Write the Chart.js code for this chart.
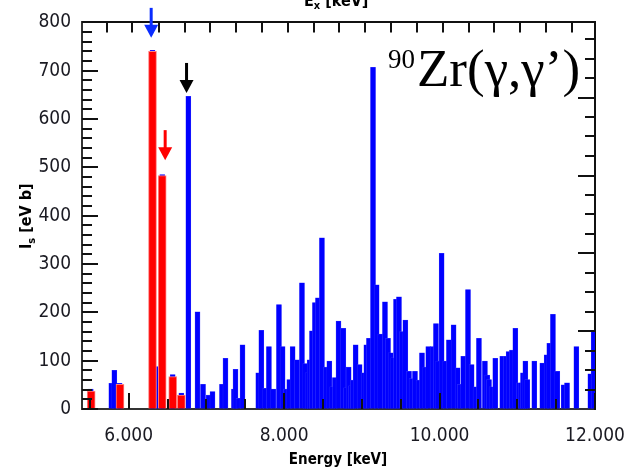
<!DOCTYPE html>
<html><head><meta charset="utf-8">
<script src="https://cdn.jsdelivr.net/npm/chart.js@4/dist/chart.umd.min.js"></script>
<style>html,body{margin:0;padding:0;background:#fff;}#wrap{width:628px;height:469px;}</style>
</head><body><div id="wrap"><canvas id="c" width="628" height="469"></canvas></div>
<script>
// ---- data ----
const blueEnergy = [5513,5777,5816,5884,6307,6384,6432,6567,6678,6768,6886,6957,7030,7079,7201,7246,7355,7375,7414,7465,
  7668,7707,7758,7805,7861,7934,7981,8024,8067,8110,8166,8230,8273,8303,8329,8359,8397,8436,8487,8539,8582,8620,8654,8700,
  8762,8797,8831,8861,8886,8921,8972,9024,9058,9092,9144,9191,9238,9298,9337,9371,9405,9440,9478,9517,9560,9607,9641,9684,
  9731,9774,9817,9855,9911,9954,9984,10027,10074,10121,10181,10233,10263,10305,10366,10413,10464,10507,10584,10614,10636,
  10670,10717,10807,10853,10889,10932,10975,11022,11050,11074,11104,11129,11219,11322,11378,11412,11459,11515,11597,11640,
  11760,11940,11983];
const blueValue = [41,53,80,53,742,88,485,71,33,647,201,51,29,36,51,105,41,82,22,133,
  75,163,43,129,41,216,129,41,61,129,102,261,94,75,102,162,220,230,354,87,99,46,65,182,
  167,44,87,48,60,133,92,75,133,146,707,257,155,222,146,116,106,227,232,160,184,78,63,78,
  60,116,87,129,129,177,99,322,99,143,174,85,51,109,247,92,46,146,99,70,61,
  46,105,109,109,119,122,167,54,54,75,99,61,99,95,112,136,196,78,50,54,
  129,73,162];
const redEnergy = [5518,5889,6307,6432,6567,6678];
const redValue  = [37,51,740,483,67,29];

const xTickValues   = [5500,6000,6500,7000,7500,8000,8500,9000,9500,10000,10500,11000,11500,12000];
const xLabelValues  = [6000,8000,10000,12000];
const yTickValues   = [0,100,200,300,400,500,600,700,800];
const yMinorValues  = [20,40,60,80,120,140,160,180,220,240,260,280,320,340,360,380,420,440,460,480,520,540,560,580,620,640,660,680,720,740,760,780];
const rightMajorValues = [161,322,483,644];
const rightMinorValues = [40,81,121,201,242,282,362,403,443,524,564,604,685,725,765];
const topTickEnergies  = [5722,6043,6391,6725,7047,7381,7716,8050,8385,8706,9041,9375,9710,10044,10379,10700,11035,11369,11704];

const arrowEnergy = [6290,6470,6745];
const arrowTip    = [768,515,654];
const arrowColor  = ['#0a2cff','#ff0000','#000000'];

const toXY = (xs, ys) => xs.map((x, i) => ({x: x, y: ys[i]}));

const COND = "'DejaVu Sans Condensed','DejaVu Sans',sans-serif";
const TICK_FONT = {family: COND, size: 19};

const decorPlugin = {
  id: 'decor',
  afterDatasetsDraw(chart) {
    const ctx = chart.ctx, xs = chart.scales.x, ys = chart.scales.y, a = chart.chartArea;
    ctx.save();
    ctx.strokeStyle = '#111';
    ctx.lineWidth = 2;
    ctx.beginPath();
    xTickValues.forEach(v => {
      const px = Math.round(xs.getPixelForValue(v));
      const len = xLabelValues.includes(v) ? 16 : 10;
      ctx.moveTo(px, a.bottom); ctx.lineTo(px, a.bottom - len);
    });
    topTickEnergies.forEach(v => {
      const px = Math.round(xs.getPixelForValue(v));
      ctx.moveTo(px, a.top); ctx.lineTo(px, a.top + 10);
    });
    yTickValues.forEach(v => {
      const py = Math.round(ys.getPixelForValue(v));
      ctx.moveTo(a.left, py); ctx.lineTo(a.left + 16, py);
    });
    yMinorValues.forEach(v => {
      const py = Math.round(ys.getPixelForValue(v));
      ctx.moveTo(a.left, py); ctx.lineTo(a.left + 10, py);
    });
    rightMajorValues.forEach(v => {
      const py = Math.round(ys.getPixelForValue(v));
      ctx.moveTo(a.right, py); ctx.lineTo(a.right - 17, py);
    });
    rightMinorValues.forEach(v => {
      const py = Math.round(ys.getPixelForValue(v));
      ctx.moveTo(a.right, py); ctx.lineTo(a.right - 10, py);
    });
    ctx.stroke();

    // x tick labels
    ctx.fillStyle = '#1a1a22';
    ctx.font = "19px " + COND;
    ctx.textAlign = 'center';
    ctx.textBaseline = 'middle';
    xLabelValues.forEach(v => {
      ctx.fillText((v / 1000).toFixed(3), xs.getPixelForValue(v), 436);
    });

    // arrows
    arrowEnergy.forEach((e, i) => {
      const px = xs.getPixelForValue(e), tip = ys.getPixelForValue(arrowTip[i]);
      ctx.strokeStyle = arrowColor[i]; ctx.fillStyle = arrowColor[i];
      ctx.lineWidth = 3;
      ctx.beginPath(); ctx.moveTo(px, tip - 30); ctx.lineTo(px, tip - 10); ctx.stroke();
      ctx.beginPath(); ctx.moveTo(px - 7, tip - 13); ctx.lineTo(px + 7, tip - 13); ctx.lineTo(px, tip); ctx.closePath(); ctx.fill();
    });

    // reaction label
    ctx.fillStyle = '#000';
    ctx.textBaseline = 'alphabetic';
    ctx.textAlign = 'left';
    ctx.font = "27px 'Liberation Serif', serif";
    ctx.fillText('90', 388, 68);
    const w90 = ctx.measureText('90').width;
    ctx.font = "53px 'Liberation Serif', serif";
    ctx.fillText('Zr(\u03b3,\u03b3\u2019)', 388 + w90 + 2, 86);

    // x axis title
    ctx.font = "bold 15px " + COND;
    ctx.textAlign = 'center';
    ctx.fillText('Energy [keV]', 338, 464);

    // top title (clipped by canvas edge)
    ctx.font = "bold 16px " + COND;
    ctx.textAlign = 'left';
    const tx = 304;
    ctx.fillText('E', tx, 6);
    const wE = ctx.measureText('E').width;
    ctx.font = "bold 11px " + COND;
    ctx.fillText('x', tx + wE, 9);
    const wx = ctx.measureText('x').width;
    ctx.font = "bold 16px " + COND;
    ctx.fillText(' [keV]', tx + wE + wx, 6);

    // y title rotated
    ctx.save();
    ctx.translate(31, 249);
    ctx.rotate(-Math.PI / 2);
    ctx.font = "bold 16px " + COND;
    ctx.textAlign = 'left';
    ctx.fillText('I', 0, 0);
    const wI = ctx.measureText('I').width;
    ctx.font = "bold 11px " + COND;
    ctx.fillText('s', wI, 4);
    const ws = ctx.measureText('s').width;
    ctx.font = "bold 16px " + COND;
    ctx.fillText(' [eV b]', wI + ws, 0);
    ctx.restore();

    ctx.restore();
  }
};

new Chart(document.getElementById('c'), {
  type: 'bar',
  data: {
    datasets: [
      {label: 'red', data: toXY(redEnergy, redValue), backgroundColor: '#ff0000', borderColor: '#ff8080', borderWidth: 1, borderSkipped: 'bottom', barThickness: 8, grouped: false, order: 0},
      {label: 'blue', data: toXY(blueEnergy, blueValue), backgroundColor: '#0000ff', borderColor: '#3a3aff', borderWidth: 0.5, borderSkipped: 'bottom', barThickness: 5, grouped: false, order: 1}
    ]
  },
  options: {
    responsive: false,
    animation: false,
    events: [],
    layout: {padding: 0},
    plugins: {legend: {display: false}, tooltip: {enabled: false}},
    scales: {
      x: {
        type: 'linear', position: 'bottom', min: 5400, max: 12000, offset: false,
        afterBuildTicks: s => { s.ticks = xTickValues.map(v => ({value: v})); },
        afterFit: s => { s.height = 60; },
        ticks: {display: false},
        grid: {drawOnChartArea: false, drawTicks: false},
        border: {display: true, color: '#333', width: 2}
      },
      xTop: {
        type: 'linear', position: 'top', min: 5400, max: 12000, offset: false,
        afterFit: s => { s.height = 17; },
        ticks: {display: false},
        grid: {drawOnChartArea: false, drawTicks: false},
        border: {display: true, color: '#111', width: 2}
      },
      y: {
        type: 'linear', position: 'left', min: 0, max: 800,
        afterBuildTicks: s => { s.ticks = yTickValues.map(v => ({value: v})); },
        afterFit: s => { s.width = 82; },
        ticks: {padding: 11, color: '#1a1a22', font: TICK_FONT},
        grid: {drawOnChartArea: false, drawTicks: false},
        border: {display: true, color: '#333', width: 2}
      },
      yRight: {
        type: 'linear', position: 'right', min: 0, max: 800,
        afterFit: s => { s.width = 33; },
        ticks: {display: false},
        grid: {drawOnChartArea: false, drawTicks: false},
        border: {display: true, color: '#111', width: 2}
      }
    }
  },
  plugins: [decorPlugin]
});
</script>
</body></html>
